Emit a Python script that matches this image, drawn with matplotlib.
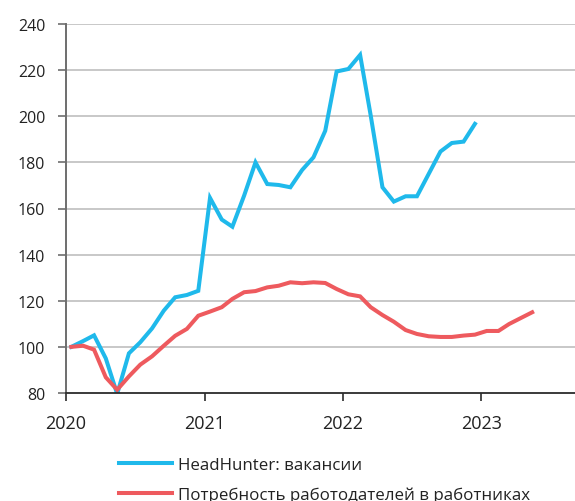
import matplotlib
matplotlib.use("Agg")
import matplotlib.pyplot as plt
import pandas as pd

plt.rcParams['font.family'] = ['Open Sans', 'DejaVu Sans']

# monthly indices, Jan 2020 = 100
hh_vacancies = [
    100, 102.5, 105, 95, 79.6, 97.2, 102, 108, 115.7, 121.5, 122.5, 124.3,
    164.6, 155.2, 152.1, 165.6, 180, 170.6, 170.2, 169.2, 176.7, 182.2, 193.7, 219.4,
    220.5, 226.6, 200.3, 169.2, 163, 165.3, 165.3, 175, 184.7, 188.4, 189, 196.7,
]
labour_demand = [
    100, 100.5, 98.8, 86.8, 81.4, 87.2, 92.3, 95.9, 100.5, 104.8, 107.8, 113.5,
    115.3, 117.2, 120.8, 123.7, 124.2, 125.8, 126.5, 128, 127.6, 128, 127.7, 125.1,
    122.8, 121.9, 117.2, 113.8, 110.9, 107.3, 105.6, 104.6, 104.3, 104.3, 104.9, 105.3,
    106.9, 106.9, 109.9, 112.5, 115,
]
series_labels = ['HeadHunter: вакансии', 'Потребность работодателей в работниках']
year_ticks = ['2020', '2021', '2022', '2023']
y_ticks = list(range(80, 241, 20))

blue = '#1fb9eb'
red = '#ee5a5e'


def month_dates(n):
    # plot each monthly value at mid-month
    return pd.date_range('2020-01-01', periods=n, freq='MS') + pd.Timedelta(days=14)


fig = plt.figure(figsize=(5.75, 5.02), dpi=100)
ax = fig.add_axes([66 / 575, 1 - 394 / 502, 1 - 66 / 575, (394 - 25) / 502])

ax.plot(month_dates(len(hh_vacancies)), hh_vacancies, color=blue, lw=2.9,
        solid_joinstyle='miter', label=series_labels[0], zorder=3)
ax.plot(month_dates(len(labour_demand)), labour_demand, color=red, lw=2.9,
        solid_joinstyle='miter', label=series_labels[1], zorder=3)

ax.set_ylim(80, 240)
ax.set_yticks(y_ticks)
ax.set_xlim(pd.Timestamp('2020-01-01'), pd.Timestamp('2023-09-05'))
ax.set_xticks([pd.Timestamp(y + '-01-01') for y in year_ticks])
ax.set_xticklabels(year_ticks)

for y in y_ticks[1:]:
    ax.axhline(y, color='#c8c8c8', lw=1.4, zorder=1)

for s in ['top', 'right']:
    ax.spines[s].set_visible(False)
ax.spines['left'].set_color('#6e6e6e')
ax.spines['left'].set_linewidth(1.4)
ax.spines['bottom'].set_color('#2b2b2b')
ax.spines['bottom'].set_linewidth(1.3)
ax.spines['bottom'].set_zorder(4)

ax.tick_params(axis='y', length=6, width=1.2, color='#6e6e6e', pad=9,
               labelsize=11.5, labelcolor='#222222')
ax.tick_params(axis='x', length=6, width=1.2, color='#2b2b2b', pad=9,
               labelsize=13, labelcolor='#222222')

fig.legend(loc='upper left', bbox_to_anchor=(119 / 575, 1 - 458 / 502),
           frameon=False, fontsize=12.2, handlelength=3.1, handletextpad=0.38,
           labelspacing=0.78, borderpad=0, borderaxespad=0, labelcolor='#222222')

fig.savefig('out.png', dpi=100)
